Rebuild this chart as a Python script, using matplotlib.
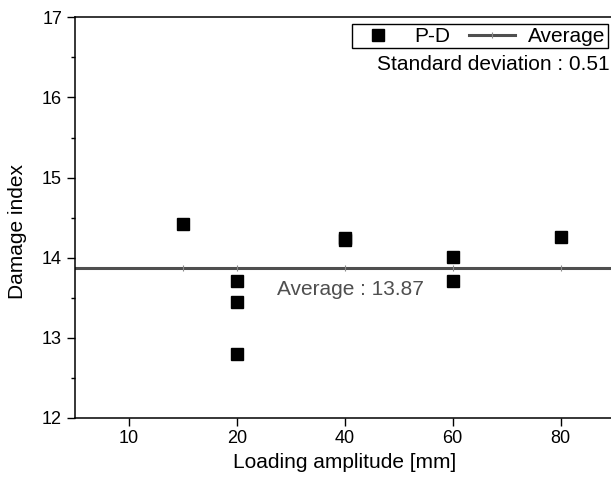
import numpy as np
import matplotlib
matplotlib.use("Agg")
import matplotlib.pyplot as plt
from matplotlib.lines import Line2D
from matplotlib.ticker import MultipleLocator

# loading amplitudes [mm] and the damage index measured for each specimen
amplitude = [15, 20, 20, 20, 40, 40, 60, 60, 80]
damage_index = [14.42, 13.71, 13.45, 12.80, 14.24, 14.22, 14.01, 13.71, 14.26]

# x axis is categorical: each amplitude tick gets an equal slot
tick_values = [10, 20, 40, 60, 80]
tick_slots = [1, 2, 3, 4, 5]

plt.rcParams['font.family'] = ['Liberation Sans', 'DejaVu Sans']

avg = np.mean(damage_index)
std = np.std(damage_index, ddof=1)
xpos = np.interp(amplitude, tick_values, tick_slots)

fig = plt.figure(figsize=(6.11, 4.78), dpi=100)
ax = fig.add_axes([74.8 / 611, 60 / 478, 539.9 / 611, 400.7 / 478])

LINE_GRAY = '#4f4f4f'

ax.axhline(avg, color=LINE_GRAY, lw=2.2, zorder=2)
ax.plot(np.unique(xpos), [avg] * len(np.unique(xpos)), ls='none', marker='|',
        ms=4, mew=0.8, color='#8a8a8a', zorder=2)
ax.plot(xpos, damage_index, ls='none', marker='s', ms=8, color='black', zorder=3)

ax.set_xlim(0.5, 5.5)
ax.set_ylim(12, 17)
ax.set_xticks(tick_slots)
ax.set_xticklabels([str(v) for v in tick_values])
ax.yaxis.set_major_locator(MultipleLocator(1))
ax.yaxis.set_minor_locator(MultipleLocator(0.5))

for side in ['left', 'bottom', 'top', 'right']:
    ax.spines[side].set_linewidth(1.1)
ax.tick_params(axis='both', which='major', direction='out', length=5.8, width=1.0,
               labelsize=13, top=False, right=False)
ax.tick_params(axis='x', which='major', pad=2.5)
ax.tick_params(axis='y', which='major', pad=3.4)
ax.tick_params(axis='y', which='minor', direction='out', length=3, width=1.0, right=False)

ax.set_xlabel('Loading amplitude [mm]', fontsize=15)
ax.set_ylabel('Damage index', fontsize=15)
ax.xaxis.set_label_coords(0.5, -0.0866)
ax.yaxis.set_label_coords(-0.088, 0.465)

ax.text(2.37, 13.6, f'Average : {avg:.2f}', fontsize=15, color=LINE_GRAY,
        ha='left', va='center')
ax.text(5.455, 16.41, f'Standard deviation : {std:.2f}', fontsize=15, color='black',
        ha='right', va='center')

handles = [
    Line2D([], [], ls='none', marker='s', ms=8, color='black'),
    Line2D([], [], color=LINE_GRAY, lw=2.2, marker='|', ms=4, mew=0.8, mec='#8a8a8a'),
]
leg = ax.legend(handles, ['P-D', 'Average'], ncol=2, fontsize=15,
                loc='upper right', bbox_to_anchor=(608 / 611, 1 - 24.3 / 478),
                bbox_transform=fig.transFigure, borderaxespad=0,
                handlelength=2.2, handletextpad=0.65, columnspacing=0.9,
                borderpad=0.12, fancybox=False, framealpha=1, edgecolor='black')
leg.get_frame().set_linewidth(1.0)

fig.savefig('out.png', dpi=100)
